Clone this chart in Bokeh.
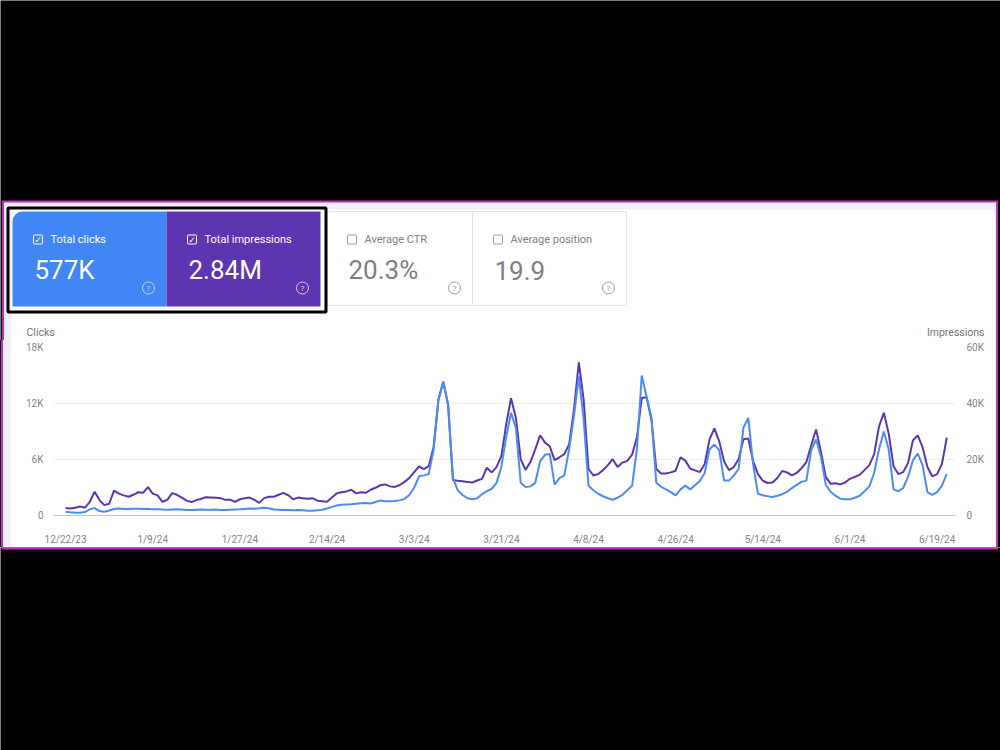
from bokeh.plotting import figure
from bokeh.layouts import column, row
from bokeh.models import Range1d, LinearAxis, FixedTicker, ColumnDataSource, Div
from bokeh.core.properties import value
from bokeh.embed import file_html
from bokeh.resources import INLINE

# Daily totals, 12/22/23 .. 6/21/24 (thousands)
impressions_k = [
    2.7, 2.5, 2.8, 3.2, 2.8, 4.9, 8.5, 5.5, 3.7, 4.2,
    8.9, 7.8, 7.2, 6.7, 7.4, 8.3, 8.1, 10.1, 7.8, 7.2,
    4.9, 5.6, 8.0, 7.4, 6.4, 5.3, 4.8, 5.5, 6.0, 6.5,
    6.4, 6.3, 6.2, 5.6, 5.6, 4.9, 5.8, 6.2, 6.4, 5.6,
    4.5, 6.2, 6.7, 6.7, 7.4, 8.1, 7.2, 5.8, 6.4, 6.2,
    6.0, 6.2, 5.3, 5.1, 4.9, 6.4, 7.9, 8.3, 8.6, 9.2,
    7.9, 8.3, 8.1, 9.2, 9.9, 10.8, 11.1, 10.4, 10.2, 10.9,
    12.0, 13.4, 15.5, 17.5, 16.6, 17.6, 24.4, 41.3, 47.8, 39.5,
    12.7, 12.4, 12.2, 12.0, 11.8, 12.5, 13.1, 17.1, 15.4, 17.3,
    21.2, 32.5, 41.9, 34.9, 20.1, 16.3, 19.1, 23.6, 28.6, 26.1,
    24.7, 19.8, 20.8, 21.9, 25.4, 37.8, 54.7, 41.3, 16.6, 14.3,
    14.8, 16.2, 18.0, 20.1, 17.3, 18.9, 19.5, 21.7, 27.9, 42.0,
    42.2, 34.2, 16.6, 15.0, 15.0, 15.4, 16.0, 20.8, 19.6, 16.8,
    16.1, 15.5, 18.4, 27.2, 31.1, 26.5, 19.4, 16.2, 17.3, 20.1,
    27.2, 27.5, 19.4, 14.8, 12.4, 11.6, 11.8, 13.4, 15.9, 15.4,
    14.3, 15.2, 16.9, 19.1, 25.1, 30.7, 22.9, 13.8, 11.3, 11.5,
    11.1, 11.8, 13.1, 13.8, 14.5, 16.2, 18.0, 21.9, 31.8, 36.7,
    29.3, 17.6, 14.8, 15.5, 18.7, 26.8, 28.6, 24.4, 17.3, 14.0,
    14.8, 18.4, 27.8,
]

clicks_k = [
    0.39, 0.34, 0.30, 0.29, 0.37, 0.67, 0.79, 0.48, 0.39, 0.53,
    0.69, 0.74, 0.69, 0.70, 0.72, 0.71, 0.70, 0.71, 0.68, 0.66,
    0.63, 0.62, 0.64, 0.66, 0.64, 0.60, 0.58, 0.61, 0.63, 0.62,
    0.62, 0.63, 0.60, 0.59, 0.62, 0.64, 0.66, 0.70, 0.74, 0.72,
    0.78, 0.84, 0.78, 0.64, 0.62, 0.60, 0.58, 0.55, 0.60, 0.56,
    0.52, 0.50, 0.55, 0.62, 0.75, 0.92, 1.08, 1.15, 1.18, 1.20,
    1.26, 1.30, 1.34, 1.28, 1.45, 1.60, 1.52, 1.54, 1.56, 1.62,
    1.78, 2.2, 3.0, 4.2, 4.3, 4.45, 7.0, 12.4, 14.3, 11.9,
    4.0, 2.7, 2.2, 1.85, 1.75, 1.85, 2.28, 2.6, 2.86, 3.5,
    5.2, 8.4, 11.0, 9.4, 3.5, 3.04, 3.12, 3.5, 5.8, 6.5,
    6.6, 3.3, 4.0, 4.3, 7.1, 10.7, 14.9, 10.3, 3.2, 2.7,
    2.33, 2.06, 1.85, 1.69, 1.9, 2.22, 2.7, 3.18, 7.1, 15.0,
    12.7, 10.5, 3.5, 3.07, 2.8, 2.5, 2.15, 2.8, 3.2, 2.8,
    3.23, 3.7, 4.55, 7.1, 7.6, 7.0, 3.74, 3.74, 4.27, 4.98,
    9.4, 10.45, 5.5, 2.33, 2.17, 2.06, 1.98, 2.12, 2.28, 2.54,
    2.93, 3.28, 3.6, 3.74, 7.0, 8.15, 6.3, 3.3, 2.54, 2.12,
    1.8, 1.75, 1.73, 1.9, 2.12, 2.6, 3.12, 4.55, 7.1, 9.0,
    7.1, 2.8, 2.6, 2.96, 4.13, 5.9, 6.64, 5.4, 2.5, 2.22,
    2.5, 3.2, 4.45,
]

days = list(range(len(clicks_k)))

date_tick_days = [0, 18, 36, 54, 72, 90, 108, 126, 144, 162, 180]
date_tick_labels = ["12/22/23", "1/9/24", "1/27/24", "2/14/24", "3/3/24", "3/21/24",
                    "4/8/24", "4/26/24", "5/14/24", "6/1/24", "6/19/24"]

clicks_ticks = [0, 6, 12, 18]
clicks_tick_labels = ["0", "6K", "12K", "18K"]
impr_ticks = [0, 20, 40, 60]
impr_tick_labels = ["0", "20K", "40K", "60K"]

card_titles = ["Total clicks", "Total impressions", "Average CTR", "Average position"]
card_values = ["577K", "2.84M", "20.3%", "19.9"]

BLUE = "#4285f4"
PURPLE = "#5e35b1"
LINE_BLUE = "#4b8bf5"
LINE_PURPLE = "#5e35b1"
MAGENTA = "#c42ac4"
PANEL_TINT = "#eef1f6"
GREY_TEXT = "#80868b"
FONT = value("Roboto")


def canvas(x0, y0, w, h):
    """A plain drawing surface addressed in page pixels (y grows downward)."""
    f = figure(width=w, height=h, output_backend="svg", toolbar_location=None,
               x_range=Range1d(x0, x0 + w), y_range=Range1d(y0 + h, y0),
               x_axis_type=None, y_axis_type=None, min_border=0,
               background_fill_color="black", border_fill_color="black",
               outline_line_color=None)
    f.grid.visible = False
    return f


def rect(f, l, t, r, b, color, **kw):
    f.quad(left=l, right=r, top=t, bottom=b, fill_color=color, line_color=None, **kw)


def strip(width, height, stops):
    """Vertical edge of the report panel, painted as colour bands."""
    bands = ", ".join(f"{c} {a}px {b}px" for c, a, b in stops)
    return Div(text="", width=width, height=height, margin=(0, 0, 0, 0),
               styles={"background": f"linear-gradient(to right, {bands})"})


# ---------------- header: frame of the report and metric cards ----------------
top = canvas(0, 0, 1000, 340)
rect(top, 1.5, 200, 997.5, 340, MAGENTA)
rect(top, 3.5, 202, 995.5, 340, PANEL_TINT)
rect(top, 11, 209, 995.5, 340, "white", border_radius=(0, 8, 0, 0))

card_left = [12, 166, 326, 472]
card_right = [166, 320, 472, 626]
top.quad(left=[326, 472], right=[472, 626], top=211, bottom=305, fill_color="white",
         line_color="#e2e4e7", line_width=1)
rect(top, 12, 211, 166, 306, BLUE, border_radius=(10, 0, 0, 0))
rect(top, 166, 211, 320, 306, PURPLE)
top.quad(left=7.5, right=325.5, top=207.5, bottom=311.5, fill_color=None,
         line_color="black", line_width=3)

for i, (title, val) in enumerate(zip(card_titles, card_values)):
    active = i < 2
    fg = "white" if active else "#7c8085"
    muted = "#d4cff0" if active else "#9aa0a6"
    x0 = card_left[i] + 21
    top.quad(left=x0, right=x0 + 9, top=234.5, bottom=243.5, fill_color=None,
             line_color="white" if active else "#9aa0a6", line_width=1, border_radius=1)
    if active:
        top.text(x=[x0 + 4.5], y=[239.5], text=["\u2713"], text_font=value("DejaVu Sans"),
                 text_font_size="9px", text_color="white", text_align="center",
                 text_baseline="middle")
    top.text(x=[x0 + 17], y=[239], text=[title], text_font=FONT, text_font_size="11px",
             text_color=fg, text_baseline="middle")
    top.text(x=[x0 + 1], y=[269.5], text=[val], text_font=FONT, text_font_size="26px",
             text_color=fg, text_baseline="middle")
    hx = card_right[i] - 18
    top.scatter(x=[hx], y=[287.5], marker="circle", size=12, fill_color=None,
                line_color=muted, line_width=1)
    top.text(x=[hx], y=[288], text=["?"], text_font=FONT, text_font_size="8px",
             text_color=muted, text_align="center", text_baseline="middle")

top.text(x=[26], y=[332], text=["Clicks"], text_font=FONT, text_font_size="10.5px",
         text_color="#70757a", text_baseline="middle")
top.text(x=[984], y=[332], text=["Impressions"], text_font=FONT, text_font_size="10.5px",
         text_color="#70757a", text_align="right", text_baseline="middle")

# ---------------- side edges of the panel beside the chart ----------------
left_strip = strip(12, 207, [("black", 0, 1.5), (MAGENTA, 1.5, 3.5),
                             (PANEL_TINT, 3.5, 11), ("white", 11, 12)])
right_strip = strip(6, 207, [("white", 0, 1.5), (MAGENTA, 1.5, 3.5), ("black", 3.5, 6)])

# ---------------- chart ----------------
p = figure(width=982, height=207, output_backend="svg", toolbar_location=None,
           x_range=Range1d(-2.5, 183.8), y_range=Range1d(0, 18),
           min_border_left=41, min_border_right=39, min_border_top=7,
           min_border_bottom=30, background_fill_color="white",
           border_fill_color="white", outline_line_color=None)
p.extra_y_ranges = {"impr": Range1d(0, 60)}

xa = p.xaxis[0]
xa.ticker = FixedTicker(ticks=date_tick_days)
xa.major_label_overrides = dict(zip(date_tick_days, date_tick_labels))
xa.major_tick_line_color = None
xa.minor_tick_line_color = None
xa.axis_line_color = "#c4c7c5"
xa.major_label_standoff = 12
xa.major_label_text_font = "Roboto"
xa.major_label_text_font_size = "10px"
xa.major_label_text_color = GREY_TEXT

ya = p.yaxis[0]
ya.ticker = FixedTicker(ticks=clicks_ticks)
ya.major_label_overrides = dict(zip(clicks_ticks, clicks_tick_labels))
ya.major_tick_line_color = None
ya.minor_tick_line_color = None
ya.axis_line_color = None
ya.major_label_standoff = 4
ya.major_label_text_font = "Roboto"
ya.major_label_text_font_size = "10px"
ya.major_label_text_color = GREY_TEXT

ra = LinearAxis(y_range_name="impr", ticker=FixedTicker(ticks=impr_ticks))
ra.major_label_overrides = dict(zip(impr_ticks, impr_tick_labels))
ra.major_tick_line_color = None
ra.minor_tick_line_color = None
ra.axis_line_color = None
ra.major_label_standoff = 5
ra.major_label_text_font = "Roboto"
ra.major_label_text_font_size = "10px"
ra.major_label_text_color = GREY_TEXT
p.add_layout(ra, "right")

p.xgrid.visible = False
p.ygrid.ticker = FixedTicker(ticks=clicks_ticks)
p.ygrid.grid_line_color = "#ededed"

src = ColumnDataSource(dict(day=days, clicks=clicks_k, impressions=impressions_k))
p.line("day", "impressions", source=src, y_range_name="impr", line_color=LINE_PURPLE,
       line_width=2)
p.line("day", "clicks", source=src, line_color=LINE_BLUE, line_width=2)

# ---------------- bottom edge of the panel ----------------
bottom = canvas(0, 547, 1000, 203)
rect(bottom, 1.5, 547, 997.5, 549, MAGENTA)

layout = column(top, row(left_strip, p, right_strip), bottom)

open("out.html", "w").write(file_html(layout, INLINE))
